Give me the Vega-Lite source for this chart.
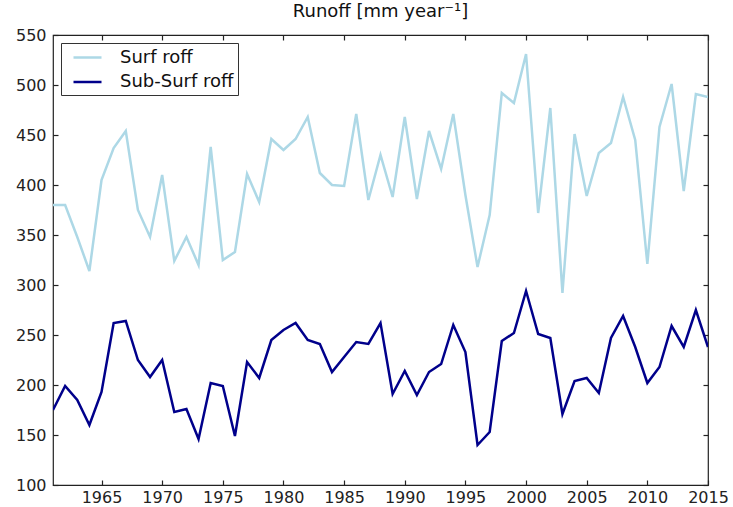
{
  "$schema": "https://vega.github.io/schema/vega-lite/v6.json",
  "width": 655,
  "height": 450,
  "autosize": "none",
  "padding": {"left": 53, "top": 35, "right": 25, "bottom": 22},
  "background": "white",
  "config": {
    "view": {"stroke": "#222", "strokeWidth": 1.2},
    "font": "DejaVu Sans",
    "axis": {"grid": false, "domain": false, "tickColor": "#222", "tickSize": -5, "tickWidth": 1.2, "labelColor": "#222", "labelFontSize": 16, "labelFont": "DejaVu Sans", "title": null, "zindex": 1, "labelFlush": false, "labelOverlap": false}
  },
  "title": {"text": "Runoff [mm year⁻¹]", "fontSize": 18, "fontWeight": "normal", "font": "DejaVu Sans", "color": "#111", "offset": 6},
  "data": {"values": [
    {"year":1961,"series":"Surf roff","value":380},
    {"year":1962,"series":"Surf roff","value":380},
    {"year":1963,"series":"Surf roff","value":348},
    {"year":1964,"series":"Surf roff","value":314},
    {"year":1965,"series":"Surf roff","value":405},
    {"year":1966,"series":"Surf roff","value":437},
    {"year":1967,"series":"Surf roff","value":454},
    {"year":1968,"series":"Surf roff","value":375},
    {"year":1969,"series":"Surf roff","value":348},
    {"year":1970,"series":"Surf roff","value":410},
    {"year":1971,"series":"Surf roff","value":324},
    {"year":1972,"series":"Surf roff","value":348},
    {"year":1973,"series":"Surf roff","value":320},
    {"year":1974,"series":"Surf roff","value":438},
    {"year":1975,"series":"Surf roff","value":325},
    {"year":1976,"series":"Surf roff","value":333},
    {"year":1977,"series":"Surf roff","value":411},
    {"year":1978,"series":"Surf roff","value":383},
    {"year":1979,"series":"Surf roff","value":446},
    {"year":1980,"series":"Surf roff","value":435},
    {"year":1981,"series":"Surf roff","value":446},
    {"year":1982,"series":"Surf roff","value":468},
    {"year":1983,"series":"Surf roff","value":412},
    {"year":1984,"series":"Surf roff","value":400},
    {"year":1985,"series":"Surf roff","value":399},
    {"year":1986,"series":"Surf roff","value":471},
    {"year":1987,"series":"Surf roff","value":385},
    {"year":1988,"series":"Surf roff","value":430},
    {"year":1989,"series":"Surf roff","value":388},
    {"year":1990,"series":"Surf roff","value":468},
    {"year":1991,"series":"Surf roff","value":386},
    {"year":1992,"series":"Surf roff","value":454},
    {"year":1993,"series":"Surf roff","value":416},
    {"year":1994,"series":"Surf roff","value":471},
    {"year":1995,"series":"Surf roff","value":390},
    {"year":1996,"series":"Surf roff","value":318},
    {"year":1997,"series":"Surf roff","value":370},
    {"year":1998,"series":"Surf roff","value":492},
    {"year":1999,"series":"Surf roff","value":482},
    {"year":2000,"series":"Surf roff","value":531},
    {"year":2001,"series":"Surf roff","value":372},
    {"year":2002,"series":"Surf roff","value":477},
    {"year":2003,"series":"Surf roff","value":292},
    {"year":2004,"series":"Surf roff","value":451},
    {"year":2005,"series":"Surf roff","value":389},
    {"year":2006,"series":"Surf roff","value":432},
    {"year":2007,"series":"Surf roff","value":442},
    {"year":2008,"series":"Surf roff","value":488},
    {"year":2009,"series":"Surf roff","value":445},
    {"year":2010,"series":"Surf roff","value":321},
    {"year":2011,"series":"Surf roff","value":458},
    {"year":2012,"series":"Surf roff","value":501},
    {"year":2013,"series":"Surf roff","value":394},
    {"year":2014,"series":"Surf roff","value":491},
    {"year":2015,"series":"Surf roff","value":488},
    {"year":1961,"series":"Sub-Surf roff","value":175},
    {"year":1962,"series":"Sub-Surf roff","value":199},
    {"year":1963,"series":"Sub-Surf roff","value":185},
    {"year":1964,"series":"Sub-Surf roff","value":160},
    {"year":1965,"series":"Sub-Surf roff","value":193},
    {"year":1966,"series":"Sub-Surf roff","value":262},
    {"year":1967,"series":"Sub-Surf roff","value":264},
    {"year":1968,"series":"Sub-Surf roff","value":225},
    {"year":1969,"series":"Sub-Surf roff","value":208},
    {"year":1970,"series":"Sub-Surf roff","value":225},
    {"year":1971,"series":"Sub-Surf roff","value":173},
    {"year":1972,"series":"Sub-Surf roff","value":176},
    {"year":1973,"series":"Sub-Surf roff","value":146},
    {"year":1974,"series":"Sub-Surf roff","value":202},
    {"year":1975,"series":"Sub-Surf roff","value":199},
    {"year":1976,"series":"Sub-Surf roff","value":149},
    {"year":1977,"series":"Sub-Surf roff","value":223},
    {"year":1978,"series":"Sub-Surf roff","value":207},
    {"year":1979,"series":"Sub-Surf roff","value":245},
    {"year":1980,"series":"Sub-Surf roff","value":255},
    {"year":1981,"series":"Sub-Surf roff","value":262},
    {"year":1982,"series":"Sub-Surf roff","value":245},
    {"year":1983,"series":"Sub-Surf roff","value":241},
    {"year":1984,"series":"Sub-Surf roff","value":213},
    {"year":1985,"series":"Sub-Surf roff","value":228},
    {"year":1986,"series":"Sub-Surf roff","value":243},
    {"year":1987,"series":"Sub-Surf roff","value":241},
    {"year":1988,"series":"Sub-Surf roff","value":262},
    {"year":1989,"series":"Sub-Surf roff","value":191},
    {"year":1990,"series":"Sub-Surf roff","value":214},
    {"year":1991,"series":"Sub-Surf roff","value":190},
    {"year":1992,"series":"Sub-Surf roff","value":213},
    {"year":1993,"series":"Sub-Surf roff","value":221},
    {"year":1994,"series":"Sub-Surf roff","value":260},
    {"year":1995,"series":"Sub-Surf roff","value":233},
    {"year":1996,"series":"Sub-Surf roff","value":140},
    {"year":1997,"series":"Sub-Surf roff","value":153},
    {"year":1998,"series":"Sub-Surf roff","value":244},
    {"year":1999,"series":"Sub-Surf roff","value":252},
    {"year":2000,"series":"Sub-Surf roff","value":294},
    {"year":2001,"series":"Sub-Surf roff","value":251},
    {"year":2002,"series":"Sub-Surf roff","value":247},
    {"year":2003,"series":"Sub-Surf roff","value":171},
    {"year":2004,"series":"Sub-Surf roff","value":204},
    {"year":2005,"series":"Sub-Surf roff","value":207},
    {"year":2006,"series":"Sub-Surf roff","value":192},
    {"year":2007,"series":"Sub-Surf roff","value":247},
    {"year":2008,"series":"Sub-Surf roff","value":269},
    {"year":2009,"series":"Sub-Surf roff","value":238},
    {"year":2010,"series":"Sub-Surf roff","value":202},
    {"year":2011,"series":"Sub-Surf roff","value":218},
    {"year":2012,"series":"Sub-Surf roff","value":259},
    {"year":2013,"series":"Sub-Surf roff","value":238},
    {"year":2014,"series":"Sub-Surf roff","value":275},
    {"year":2015,"series":"Sub-Surf roff","value":238}
  ]},
  "layer": [
    {
      "mark": {"type": "line", "strokeWidth": 2.5, "clip": true},
      "encoding": {
        "x": {"field": "year", "type": "quantitative", "scale": {"domain": [1961, 2015], "nice": false, "zero": false},
              "axis": {"orient": "bottom", "values": [1965,1970,1975,1980,1985,1990,1995,2000,2005,2010,2015], "format": "d", "labelPadding": 9}},
        "y": {"field": "value", "type": "quantitative", "scale": {"domain": [100, 550], "nice": false, "zero": false},
              "axis": {"orient": "left", "values": [100,150,200,250,300,350,400,450,500,550], "labelPadding": 12}},
        "color": {"field": "series", "type": "nominal",
                  "scale": {"domain": ["Surf roff", "Sub-Surf roff"], "range": ["#add8e6", "#00008b"]},
                  "legend": {"orient": "top-left", "title": null, "symbolType": "M-1.556,0L1.556,0", "symbolStrokeWidth": 2.5, "symbolSize": 324, "symbolFillColor": "transparent",
                             "labelFontSize": 18, "labelFont": "DejaVu Sans", "labelColor": "#111", "strokeColor": "#333", "fillColor": "white",
                             "padding": 4, "offset": 8, "rowPadding": 4.5, "labelOffset": 22, "symbolOffset": 12, "cornerRadius": 0}},
        "detail": {"field": "series"}
      }
    },
    {
      "mark": {"type": "line", "opacity": 0},
      "encoding": {
        "x": {"field": "year", "type": "quantitative",
              "axis": {"orient": "top", "values": [1965,1970,1975,1980,1985,1990,1995,2000,2005,2010,2015], "labels": false}},
        "y": {"field": "value", "type": "quantitative",
              "axis": {"orient": "right", "values": [100,150,200,250,300,350,400,450,500,550], "labels": false}},
        "detail": {"field": "series"}
      }
    }
  ],
  "resolve": {"axis": {"x": "independent", "y": "independent"}}
}
